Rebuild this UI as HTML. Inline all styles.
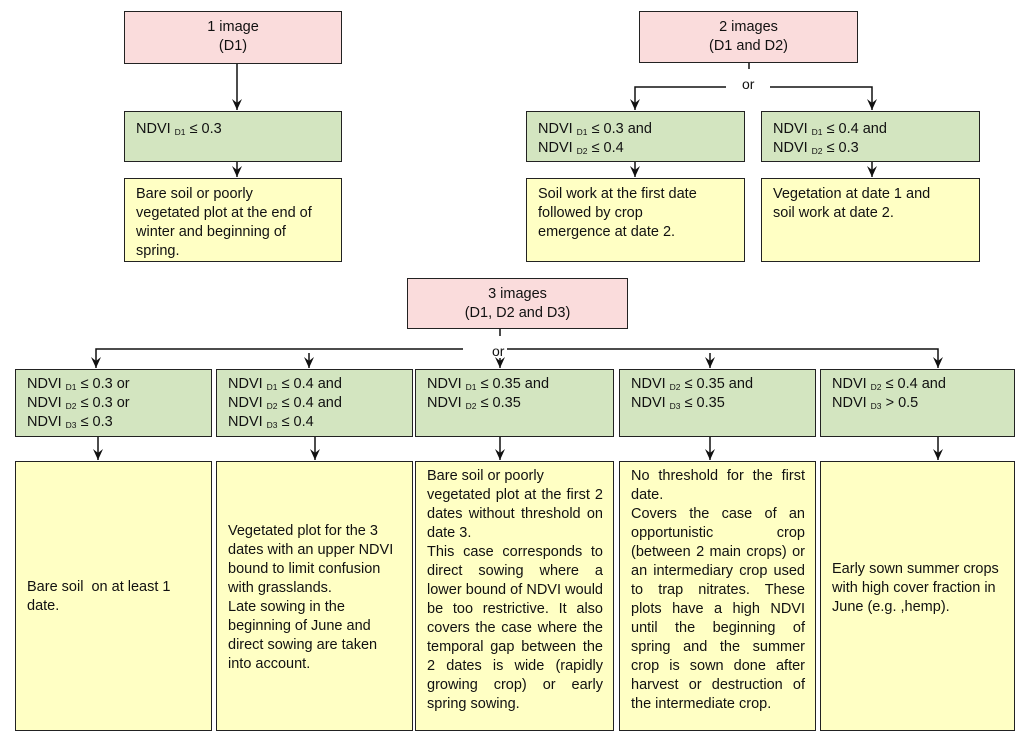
<!DOCTYPE html>
<html><head><meta charset="utf-8"><style>
body{margin:0;width:1024px;height:739px;background:#fff;position:relative;overflow:hidden;font-family:"Liberation Sans",Arial,sans-serif;font-size:14.5px;color:#111}
.b{position:absolute;box-sizing:border-box;border:1.5px solid #222;line-height:19px}
.p{background:#fadcdc;text-align:center;padding-top:6px}
.g{background:#d3e5c0;padding:5px 0 0 11px}
.y{background:#ffffc4;padding:6px 10px 0 11px}
.j{text-align:justify}
sub{font-size:8.5px;vertical-align:-2px;line-height:0}
svg{position:absolute;left:0;top:0}
.or{position:absolute;font-size:14px}
</style></head><body>
<svg width="1024" height="739">
<defs><marker id="a" markerWidth="12" markerHeight="12" refX="11" refY="5" orient="auto" markerUnits="userSpaceOnUse"><path d="M0,0 L11,5 L0,10 L4,5z" fill="#111"/></marker></defs>
<g stroke="#111" stroke-width="1.5" fill="none">
<line x1="237" y1="64" x2="237" y2="110" marker-end="url(#a)"/>
<line x1="237" y1="162" x2="237" y2="177" marker-end="url(#a)"/>
<line x1="749" y1="62" x2="749" y2="69"/>
<polyline points="726,87 635,87 635,110" marker-end="url(#a)"/>
<polyline points="770,87 872,87 872,110" marker-end="url(#a)"/>
<line x1="635" y1="162" x2="635" y2="177" marker-end="url(#a)"/>
<line x1="872" y1="162" x2="872" y2="177" marker-end="url(#a)"/>
<line x1="500" y1="329" x2="500" y2="336"/>
<polyline points="463,349 96,349 96,368" marker-end="url(#a)"/>
<polyline points="507,349 938,349 938,368" marker-end="url(#a)"/>
<line x1="309" y1="353" x2="309" y2="368" marker-end="url(#a)"/>
<line x1="500" y1="358" x2="500" y2="368" marker-end="url(#a)"/>
<line x1="710" y1="353" x2="710" y2="368" marker-end="url(#a)"/>
<line x1="98" y1="437" x2="98" y2="460" marker-end="url(#a)"/>
<line x1="315" y1="437" x2="315" y2="460" marker-end="url(#a)"/>
<line x1="500" y1="437" x2="500" y2="460" marker-end="url(#a)"/>
<line x1="710" y1="437" x2="710" y2="460" marker-end="url(#a)"/>
<line x1="938" y1="437" x2="938" y2="460" marker-end="url(#a)"/>
</g></svg>
<div class="or" style="left:742px;top:76px">or</div>
<div class="or" style="left:492px;top:343px">or</div>

<div class="b p" style="left:124px;top:11px;width:218px;height:53px">1 image<br>(D1)</div>
<div class="b g" style="left:124px;top:111px;width:218px;height:51px;padding-top:8px">NDVI <sub>D1</sub> ≤ 0.3</div>
<div class="b y" style="left:124px;top:178px;width:218px;height:84px;padding-right:12px">Bare soil or poorly<br>vegetated plot at the end of winter and beginning of spring.</div>

<div class="b p" style="left:639px;top:11px;width:219px;height:52px">2 images<br>(D1 and D2)</div>
<div class="b g" style="left:526px;top:111px;width:219px;height:51px;padding-top:8px">NDVI <sub>D1</sub> ≤ 0.3 and<br>NDVI <sub>D2</sub> ≤ 0.4</div>
<div class="b g" style="left:761px;top:111px;width:219px;height:51px;padding-top:8px">NDVI <sub>D1</sub> ≤ 0.4 and<br>NDVI <sub>D2</sub> ≤ 0.3</div>
<div class="b y" style="left:526px;top:178px;width:219px;height:84px;padding-right:30px">Soil work at the first date followed by crop emergence at date 2.</div>
<div class="b y" style="left:761px;top:178px;width:219px;height:84px;padding-right:30px">Vegetation at date 1 and soil work at date 2.</div>

<div class="b p" style="left:407px;top:278px;width:221px;height:51px">3 images<br>(D1, D2 and D3)</div>
<div class="b g" style="left:15px;top:369px;width:197px;height:68px">NDVI <sub>D1</sub> ≤ 0.3 or<br>NDVI <sub>D2</sub> ≤ 0.3 or<br>NDVI <sub>D3</sub> ≤ 0.3</div>
<div class="b g" style="left:216px;top:369px;width:197px;height:68px">NDVI <sub>D1</sub> ≤ 0.4 and<br>NDVI <sub>D2</sub> ≤ 0.4 and<br>NDVI <sub>D3</sub> ≤ 0.4</div>
<div class="b g" style="left:415px;top:369px;width:199px;height:68px">NDVI <sub>D1</sub> ≤ 0.35 and<br>NDVI <sub>D2</sub> ≤ 0.35</div>
<div class="b g" style="left:619px;top:369px;width:197px;height:68px">NDVI <sub>D2</sub> ≤ 0.35 and<br>NDVI <sub>D3</sub> ≤ 0.35</div>
<div class="b g" style="left:820px;top:369px;width:195px;height:68px">NDVI <sub>D2</sub> ≤ 0.4 and<br>NDVI <sub>D3</sub> &gt; 0.5</div>

<div class="b y" style="left:15px;top:461px;width:197px;height:270px;padding-top:116px;padding-right:25px">Bare soil &nbsp;on at least 1 date.</div>
<div class="b y" style="left:216px;top:461px;width:197px;height:270px;padding-top:60px">Vegetated plot for the 3 dates with an upper NDVI bound to limit confusion with grasslands.<br>Late sowing in the beginning of June and direct sowing are taken into account.</div>
<div class="b y j" style="left:415px;top:461px;width:199px;height:270px;padding-top:5px">Bare soil or poorly<br>vegetated plot at the first 2 dates without threshold on date 3.<br>This case corresponds to direct sowing where a lower bound of NDVI would be too restrictive. It also covers the case where the temporal gap between the 2 dates is wide (rapidly growing crop) or early spring sowing.</div>
<div class="b y j" style="left:619px;top:461px;width:197px;height:270px;padding-top:5px">No threshold for the first date.<br>Covers the case of an opportunistic crop (between 2 main crops) or an intermediary crop used to trap nitrates. These plots have a high NDVI until the beginning of spring and the summer crop is sown done after harvest or destruction of the intermediate crop.</div>
<div class="b y" style="left:820px;top:461px;width:195px;height:270px;padding-top:98px">Early sown summer crops with high cover fraction in June (e.g. ,hemp).</div>
</body></html>
